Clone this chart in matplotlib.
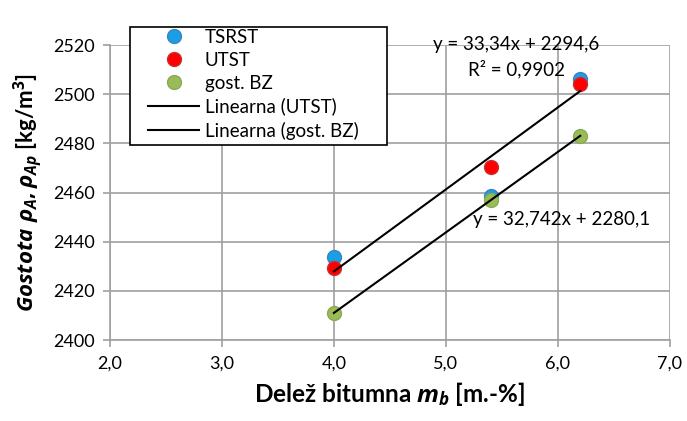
import numpy as np
import matplotlib
matplotlib.use('Agg')
import matplotlib.pyplot as plt
import matplotlib.ticker as ticker
from matplotlib.patches import Rectangle

plt.rcParams['font.family'] = ['Lato', 'DejaVu Sans']
plt.rcParams['mathtext.fontset'] = 'custom'
plt.rcParams['mathtext.rm'] = 'Open Sans:bold'
plt.rcParams['mathtext.it'] = 'Open Sans:bold:italic'
plt.rcParams['mathtext.bf'] = 'Open Sans:bold'

# podatki
bitumen = [4.0, 5.4, 6.2]
tsrst = [2434.0, 2458.5, 2506.0]
utst = [2429.5, 2470.5, 2504.0]
gost_bz = [2411.0, 2457.0, 2483.0]

# linearni trendi (iz Excela)
k_utst, n_utst = 33.34, 2294.6
k_bz, n_bz = 32.742, 2280.1

x_ticks = [2.0, 3.0, 4.0, 5.0, 6.0, 7.0]
y_ticks = [2400, 2420, 2440, 2460, 2480, 2500, 2520]

fig = plt.figure(figsize=(6.87, 4.21), dpi=100)
ax = fig.add_axes([0.160, 0.192, 0.815, 0.701])

grey = '#A0A0A0'
ax.set_xlim(2.0, 7.0)
ax.set_ylim(2400, 2520)
ax.set_xticks(x_ticks)
ax.set_yticks(y_ticks)
ax.xaxis.set_major_formatter(ticker.FuncFormatter(lambda v, p: ('%.1f' % v).replace('.', ',')))
ax.grid(True, color=grey, lw=1.2)
ax.set_axisbelow(True)
for s in ax.spines.values():
    s.set_visible(False)
ax.spines['left'].set_visible(True)
ax.spines['bottom'].set_visible(True)
ax.spines['left'].set_color(grey)
ax.spines['bottom'].set_color(grey)
ax.spines['left'].set_linewidth(1.2)
ax.spines['bottom'].set_linewidth(1.2)
ax.tick_params(direction='out', length=5, width=1.2, color=grey, labelsize=13, pad=6)

xs = np.array([bitumen[0], bitumen[-1]])
ax.plot(bitumen, tsrst, 'o', color='#1A9FE6', mec='#3A85C0', ms=10, label='TSRST', zorder=3)
ax.plot(bitumen, utst, 'o', color='#FF0000', mec='#C83030', ms=10, label='UTST', zorder=3)
ax.plot(bitumen, gost_bz, 'o', color='#9BBB59', mec='#8AAA50', ms=10, label='gost. BZ', zorder=3)
ax.plot(xs, k_utst * xs + n_utst, color='black', lw=1.5, label='Linearna (UTST)', zorder=4)
ax.plot(xs, k_bz * xs + n_bz, color='black', lw=1.5, label='Linearna (gost. BZ)', zorder=4)

ax.text(5.63, 2520.3, 'y = 33,34x + 2294,6', fontsize=13.5, ha='center', va='center')
ax.text(5.63, 2510.2, 'R² = 0,9902', fontsize=13.5, ha='center', va='center')
ax.text(6.03, 2449.0, 'y = 32,742x + 2280,1', fontsize=13.5, ha='center', va='center')

# okvir legende (kot v Excelu)
box = Rectangle((0.189, 0.656), 0.374, 0.280, transform=fig.transFigure, facecolor='white',
                edgecolor='black', lw=1.2, clip_on=False, zorder=5)
ax.add_patch(box)
leg = ax.legend(loc='upper left', bbox_to_anchor=(0.216, 0.932), bbox_transform=fig.transFigure,
                fontsize=13.5, frameon=False, borderpad=0, borderaxespad=0,
                labelspacing=0.32, handlelength=2.7, handletextpad=0.3, numpoints=1)
leg.set_zorder(6)

ax.set_xlabel(r'Delež bitumna $m_b$ [m.-%]', fontsize=17.5, fontweight='bold', labelpad=6)
ax.set_ylabel(r'$Gostota\ \rho_A, \rho_{Ap}$ [kg/m$^3$]', fontsize=16, fontweight='bold', labelpad=6)

fig.savefig('out.png', dpi=100)
